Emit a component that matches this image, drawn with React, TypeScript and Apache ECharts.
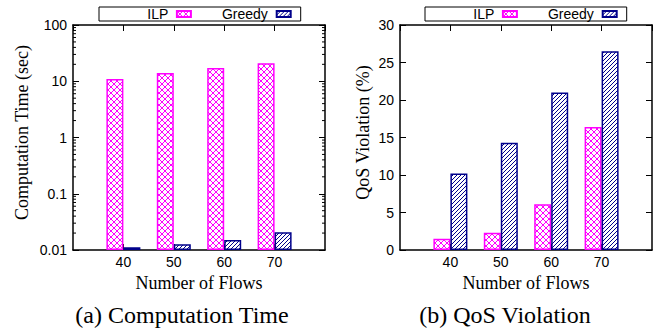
import React, { useEffect, useRef } from "react";
import * as echarts from "echarts";

const flows = [40, 50, 60, 70];
const ilpTime = [11, 14, 17.2, 20.8];
const greedyTime = [0.0112, 0.0126, 0.0151, 0.0207];
const ilpQos = [1.5, 2.3, 6.1, 16.4];
const greedyQos = [10.2, 14.3, 21.0, 26.5];
const seriesNames = ["ILP", "Greedy"];
const timeMinorTicks = [
  0.02, 0.03, 0.04, 0.05, 0.06, 0.07, 0.08, 0.09,
  0.2, 0.3, 0.4, 0.5, 0.6, 0.7, 0.8, 0.9,
  2, 3, 4, 5, 6, 7, 8, 9,
  20, 30, 40, 50, 60, 70, 80, 90,
];
const captions = ["(a) Computation Time", "(b) QoS Violation"];

const MAGENTA = "#ff00ff";
const NAVY = "#00008b";
const SANS = "Liberation Sans";
const SERIF = "Liberation Serif";

function makePattern(kind: "cross" | "hatch", color: string) {
  const s = kind === "cross" ? 6 : 4;
  const c = document.createElement("canvas");
  c.width = s;
  c.height = s;
  const ctx = c.getContext("2d")!;
  ctx.fillStyle = "#ffffff";
  ctx.fillRect(0, 0, s, s);
  ctx.strokeStyle = color;
  ctx.lineWidth = 1;
  ctx.beginPath();
  if (kind === "cross") {
    ctx.moveTo(-1, -1);
    ctx.lineTo(s + 1, s + 1);
    ctx.moveTo(-1, s + 1);
    ctx.lineTo(s + 1, -1);
  } else {
    for (const k of [-s, 0, s]) {
      ctx.moveTo(k - 1, s + 1);
      ctx.lineTo(k + s + 1, -1);
    }
  }
  ctx.stroke();
  return { image: c, repeat: "repeat" } as any;
}

export default function App() {
  const ref = useRef<HTMLDivElement>(null);

  useEffect(() => {
    if (!ref.current) return;
    const chart = echarts.init(ref.current, undefined, { renderer: "svg" });
    const cross = makePattern("cross", MAGENTA);
    const hatch = makePattern("hatch", NAVY);

    const labelStyle = { fontFamily: SANS, fontSize: 14, color: "#000" };
    const lineStyle = { color: "#000", width: 1.5 };
    const nameStyleY = { fontFamily: SERIF, fontSize: 18, color: "#000", padding: [0, 0, 0, 10] };
    const xCommon = (gridIndex: number, position: "top" | "bottom", main: boolean) => ({
      type: "value",
      gridIndex,
      position,
      min: 30,
      max: 80,
      interval: 10,
      axisLine: { show: true, onZero: false, lineStyle },
      axisTick: { show: true, inside: true, length: 6, lineStyle: { color: "#000", width: 1 } },
      splitLine: { show: false },
      axisLabel: {
        show: main,
        margin: 5,
        ...labelStyle,
        showMinLabel: false,
        showMaxLabel: false,
        formatter: (v: number) => (v > 30 && v < 80 ? String(v) : ""),
      },
      name: main ? "Number of Flows" : "",
      nameLocation: "middle",
      nameGap: 19,
      nameTextStyle: { fontFamily: SERIF, fontSize: 18, color: "#000" },
    });

    const yLog = (position: "left" | "right", main: boolean) => ({
      type: "log",
      logBase: 10,
      gridIndex: 0,
      position,
      min: 0.01,
      max: 100,
      startValue: 0.01,
      axisLine: { show: true, onZero: false, lineStyle },
      axisTick: { show: true, inside: true, length: 6, lineStyle: { color: "#000", width: 1 } },
      splitLine: { show: false },
      axisLabel: {
        show: main,
        margin: 6,
        ...labelStyle,
        formatter: (v: number) => String(parseFloat(Number(v).toPrecision(3))),
      },
      name: main ? "Computation Time (sec)" : "",
      nameLocation: "middle",
      nameGap: 42,
      nameTextStyle: nameStyleY,
    });

    const yVal = (position: "left" | "right", main: boolean) => ({
      type: "value",
      gridIndex: 1,
      position,
      min: 0,
      max: 30,
      interval: 5,
      axisLine: { show: true, onZero: false, lineStyle },
      axisTick: { show: true, inside: true, length: 6, lineStyle: { color: "#000", width: 1 } },
      splitLine: { show: false },
      axisLabel: { show: main, margin: 6, ...labelStyle },
      name: main ? "QoS Violation (%)" : "",
      nameLocation: "middle",
      nameGap: 28,
      nameTextStyle: nameStyleY,
    });

    const barSeries = (name: string, data: number[], xi: number, yi: number) => ({
      type: "bar",
      name,
      xAxisIndex: xi,
      yAxisIndex: yi,
      barWidth: 17,
      barGap: "0%",
      data: flows.map((f, i) => [f, data[i]]),
      itemStyle: {
        color: name === "ILP" ? cross : hatch,
        borderColor: name === "ILP" ? MAGENTA : NAVY,
        borderWidth: 1.5,
      },
      emphasis: { disabled: true },
    });

    const legend = (left: number) => ({
      left,
      top: 7,
      data: seriesNames,
      align: "right",
      orient: "horizontal",
      icon: "rect",
      itemWidth: 14,
      itemHeight: 6,
      itemGap: 30,
      borderColor: "#000",
      borderWidth: 1,
      borderRadius: 0,
      padding: [0, 9, 0, 48],
      selectedMode: false,
      formatter: (n: string) => n + " ",
      textStyle: { fontFamily: SANS, fontSize: 14, color: "#000", lineHeight: 13 },
    });

    chart.setOption({
      animation: false,
      backgroundColor: "#ffffff",
      grid: [
        { left: 73, top: 25, width: 252, height: 225 },
        { left: 400, top: 25, width: 252, height: 225 },
      ],
      legend: [legend(99), legend(425)],
      xAxis: [
        xCommon(0, "bottom", true),
        xCommon(0, "top", false),
        xCommon(1, "bottom", true),
        xCommon(1, "top", false),
      ],
      yAxis: [yLog("left", true), yLog("right", false), yVal("left", true), yVal("right", false)],
      series: [
        barSeries("ILP", ilpTime, 0, 0),
        barSeries("Greedy", greedyTime, 0, 0),
        barSeries("ILP", ilpQos, 2, 2),
        barSeries("Greedy", greedyQos, 2, 2),
        {
          type: "custom",
          name: "minorTicks",
          xAxisIndex: 0,
          yAxisIndex: 0,
          silent: true,
          clip: false,
          data: timeMinorTicks.map((v) => [30, v]),
          renderItem: (params: any, api: any) => {
            const v = api.value(1);
            const l = api.coord([30, v]);
            const r = api.coord([80, v]);
            return {
              type: "group",
              children: [
                { type: "line", shape: { x1: l[0], y1: l[1], x2: l[0] + 3, y2: l[1] }, style: { stroke: "#000", lineWidth: 1 } },
                { type: "line", shape: { x1: r[0] - 3, y1: r[1], x2: r[0], y2: r[1] }, style: { stroke: "#000", lineWidth: 1 } },
              ],
            };
          },
        },
      ],
      graphic: [
        {
          type: "text",
          x: 182,
          y: 315,
          style: { text: captions[0], fontFamily: SERIF, fontSize: 24, fill: "#000", align: "center", verticalAlign: "middle" },
        },
        {
          type: "text",
          x: 505,
          y: 315,
          style: { text: captions[1], fontFamily: SERIF, fontSize: 24, fill: "#000", align: "center", verticalAlign: "middle" },
        },
      ],
    } as any);

    return () => chart.dispose();
  }, []);

  return (
    <div
      ref={ref}
      style={{ position: "fixed", left: 0, top: 0, width: 665, height: 332, background: "#fff" }}
    />
  );
}
